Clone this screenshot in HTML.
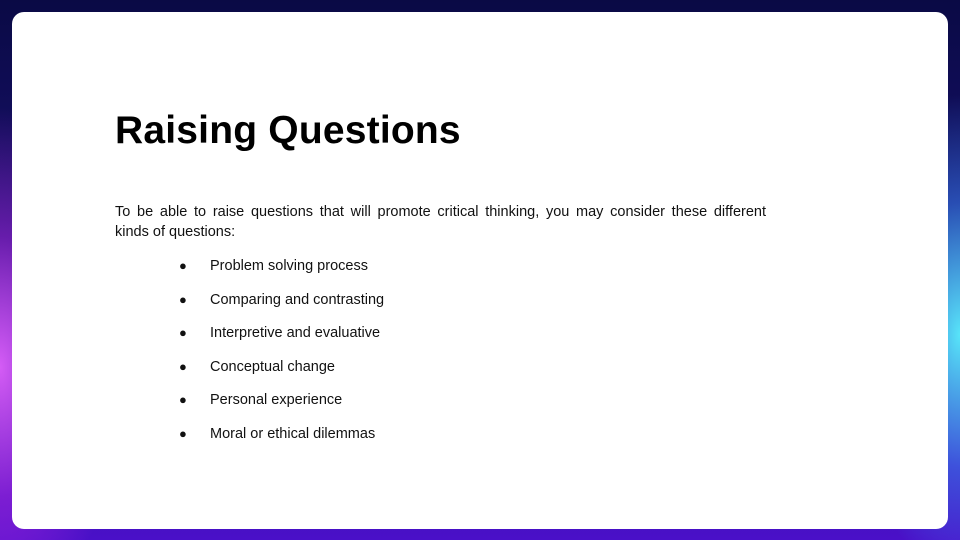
<!DOCTYPE html>
<html><head><meta charset="utf-8"><style>
html,body{margin:0;padding:0}
body{width:960px;height:540px;position:relative;overflow:hidden;font-family:"Liberation Sans",Arial,sans-serif;
background:
radial-gradient(ellipse 120px 260px at 0% 68%, rgba(230,100,255,0.9), rgba(180,40,230,0.5) 50%, rgba(0,0,0,0) 100%),
radial-gradient(ellipse 110px 240px at 100% 62%, rgba(90,240,255,0.95), rgba(60,140,255,0.5) 55%, rgba(0,0,0,0) 100%),
linear-gradient(180deg,#0a0a45 0%,#16106a 40%,#3a18b0 80%,#4a10c8 100%);}
.card{position:absolute;left:12px;top:12px;width:936px;height:517px;background:#fff;border-radius:12px}
h1{position:absolute;left:115px;top:108px;margin:0;font-size:39px;font-weight:bold;color:#000;line-height:46px;letter-spacing:0.2px}
.l1{position:absolute;left:115px;top:202px;width:651px;font-size:14.5px;line-height:20px;color:#111;text-align:justify;text-align-last:justify;white-space:nowrap}
.l2{position:absolute;left:115px;top:222px;font-size:14.5px;line-height:20px;color:#111}
.li{position:absolute;left:210px;font-size:14.5px;color:#111;line-height:20px}
.b{position:absolute;left:179px;font-size:13px;line-height:20px;color:#111}
</style></head><body>
<div class="card"></div>
<h1>Raising Questions</h1>
<div class="l1" style="white-space:normal">To be able to raise questions that will promote critical thinking, you may consider these different</div>
<div class="l2">kinds of questions:</div>
<div class="b" style="top:256px">●</div><div class="li" style="top:256px">Problem solving process</div>
<div class="b" style="top:290px">●</div><div class="li" style="top:290px">Comparing and contrasting</div>
<div class="b" style="top:323px">●</div><div class="li" style="top:323px">Interpretive and evaluative</div>
<div class="b" style="top:357px">●</div><div class="li" style="top:357px">Conceptual change</div>
<div class="b" style="top:390px">●</div><div class="li" style="top:390px">Personal experience</div>
<div class="b" style="top:424px">●</div><div class="li" style="top:424px">Moral or ethical dilemmas</div>
</body></html>
